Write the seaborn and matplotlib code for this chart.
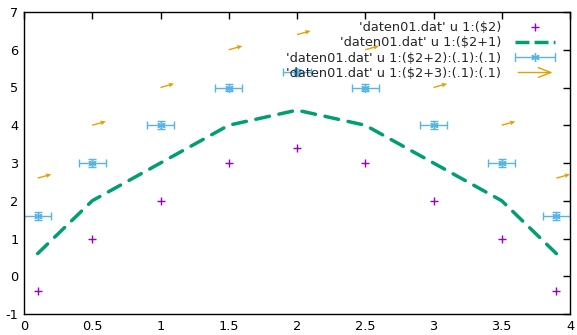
import numpy as np
import pandas as pd
import matplotlib
matplotlib.use('Agg')
import matplotlib.pyplot as plt
import seaborn as sns
from matplotlib.legend_handler import HandlerBase
from matplotlib.patches import FancyArrowPatch
from matplotlib.lines import Line2D
from matplotlib.ticker import FuncFormatter, MultipleLocator

# data read from daten01.dat
x = [0.1, 0.5, 1.0, 1.5, 2.0, 2.5, 3.0, 3.5, 3.9]
y = [-0.4, 1.0, 2.0, 3.0, 3.4, 3.0, 2.0, 1.0, -0.4]
err = 0.1   # (.1) columns
vec = 0.1   # vector delta

labels = ["'daten01.dat' u 1:($2)",
          "'daten01.dat' u 1:($2+1)",
          "'daten01.dat' u 1:($2+2):(.1):(.1)",
          "'daten01.dat' u 1:($2+3):(.1):(.1)"]

purple, green, blue, orange = '#9400d3', '#009e73', '#56b4e9', '#e69f00'

df = pd.DataFrame({'x': x, 'y': y})
df['y1'] = df['y'] + 1
df['y2'] = df['y'] + 2
df['y3'] = df['y'] + 3

sns.set_style('white')
plt.rcParams['font.family'] = ['DejaVu Sans']
fig = plt.figure(figsize=(5.77, 3.35), dpi=100)
ax = fig.add_axes([24/577, 21/335, 546/577, 302/335])

sns.scatterplot(data=df, x='x', y='y', marker='+', s=40, color=purple, linewidth=1, ax=ax)
sns.lineplot(data=df, x='x', y='y1', color=green, lw=2.5, ax=ax)
ax.lines[-1].set_dashes((4, 2.8))
ax.lines[-1].set_dash_capstyle('round')
ax.errorbar(df['x'], df['y2'], xerr=err, yerr=err, fmt='none', ecolor=blue,
            elinewidth=1, capsize=3, capthick=1)
ax.scatter(df['x'], df['y2'], marker=(6, 2, 0), s=28, color=blue, linewidth=1)
ax.quiver(df['x'], df['y3'], np.full(len(x), vec), np.full(len(x), vec),
          angles='xy', scale_units='xy', scale=1, color=orange,
          width=0.0025, headwidth=3.5, headlength=4, headaxislength=3.5)

ax.set_xlim(0, 4)
ax.set_ylim(-1, 7)
ax.xaxis.set_major_locator(MultipleLocator(0.5))
ax.yaxis.set_major_locator(MultipleLocator(1))
ax.xaxis.set_major_formatter(FuncFormatter(lambda v, p: f'{v:g}'))
ax.yaxis.set_major_formatter(FuncFormatter(lambda v, p: f'{v:g}'))
ax.tick_params(direction='in', length=5, width=1, top=True, right=True,
               labelsize=9.3, colors='black', pad=4)
ax.set_xlabel('')
ax.set_ylabel('')
for s in ax.spines.values():
    s.set_color('black')
    s.set_linewidth(1)


class ArrowHandler(HandlerBase):
    def create_artists(self, legend, orig, xd, yd, w, h, fs, trans):
        a = FancyArrowPatch((xd, yd + h/2), (xd + w, yd + h/2),
                            arrowstyle='->,head_length=0.9,head_width=0.35',
                            mutation_scale=10, color=orange, lw=1, transform=trans)
        return [a]


class ErrHandler(HandlerBase):
    def create_artists(self, legend, orig, xd, yd, w, h, fs, trans):
        yc = yd + h/2
        arts = [Line2D([xd, xd + w], [yc, yc], color=blue, lw=1, transform=trans),
                Line2D([xd, xd], [yc - 3, yc + 3], color=blue, lw=1, transform=trans),
                Line2D([xd + w, xd + w], [yc - 3, yc + 3], color=blue, lw=1, transform=trans),
                Line2D([xd + w/2], [yc], marker=(6, 2, 0), ms=6, color=blue, lw=0, transform=trans)]
        return arts


h_pt = Line2D([], [], marker='+', color=purple, lw=0, ms=6)
h_ln = Line2D([], [], color=green, lw=2.5, dashes=(4, 1.5))
h_eb = Line2D([], [])
h_ar = Line2D([], [])
ax.legend([h_pt, h_ln, h_eb, h_ar], labels, loc='upper right', markerfirst=False,
          frameon=False, fontsize=9.3, handlelength=3.1, handletextpad=1.1,
          labelspacing=0.18, borderaxespad=0.3, bbox_to_anchor=(0.99, 1.0),
          handler_map={h_eb: ErrHandler(), h_ar: ArrowHandler()})

fig.savefig('out.png', dpi=100)
